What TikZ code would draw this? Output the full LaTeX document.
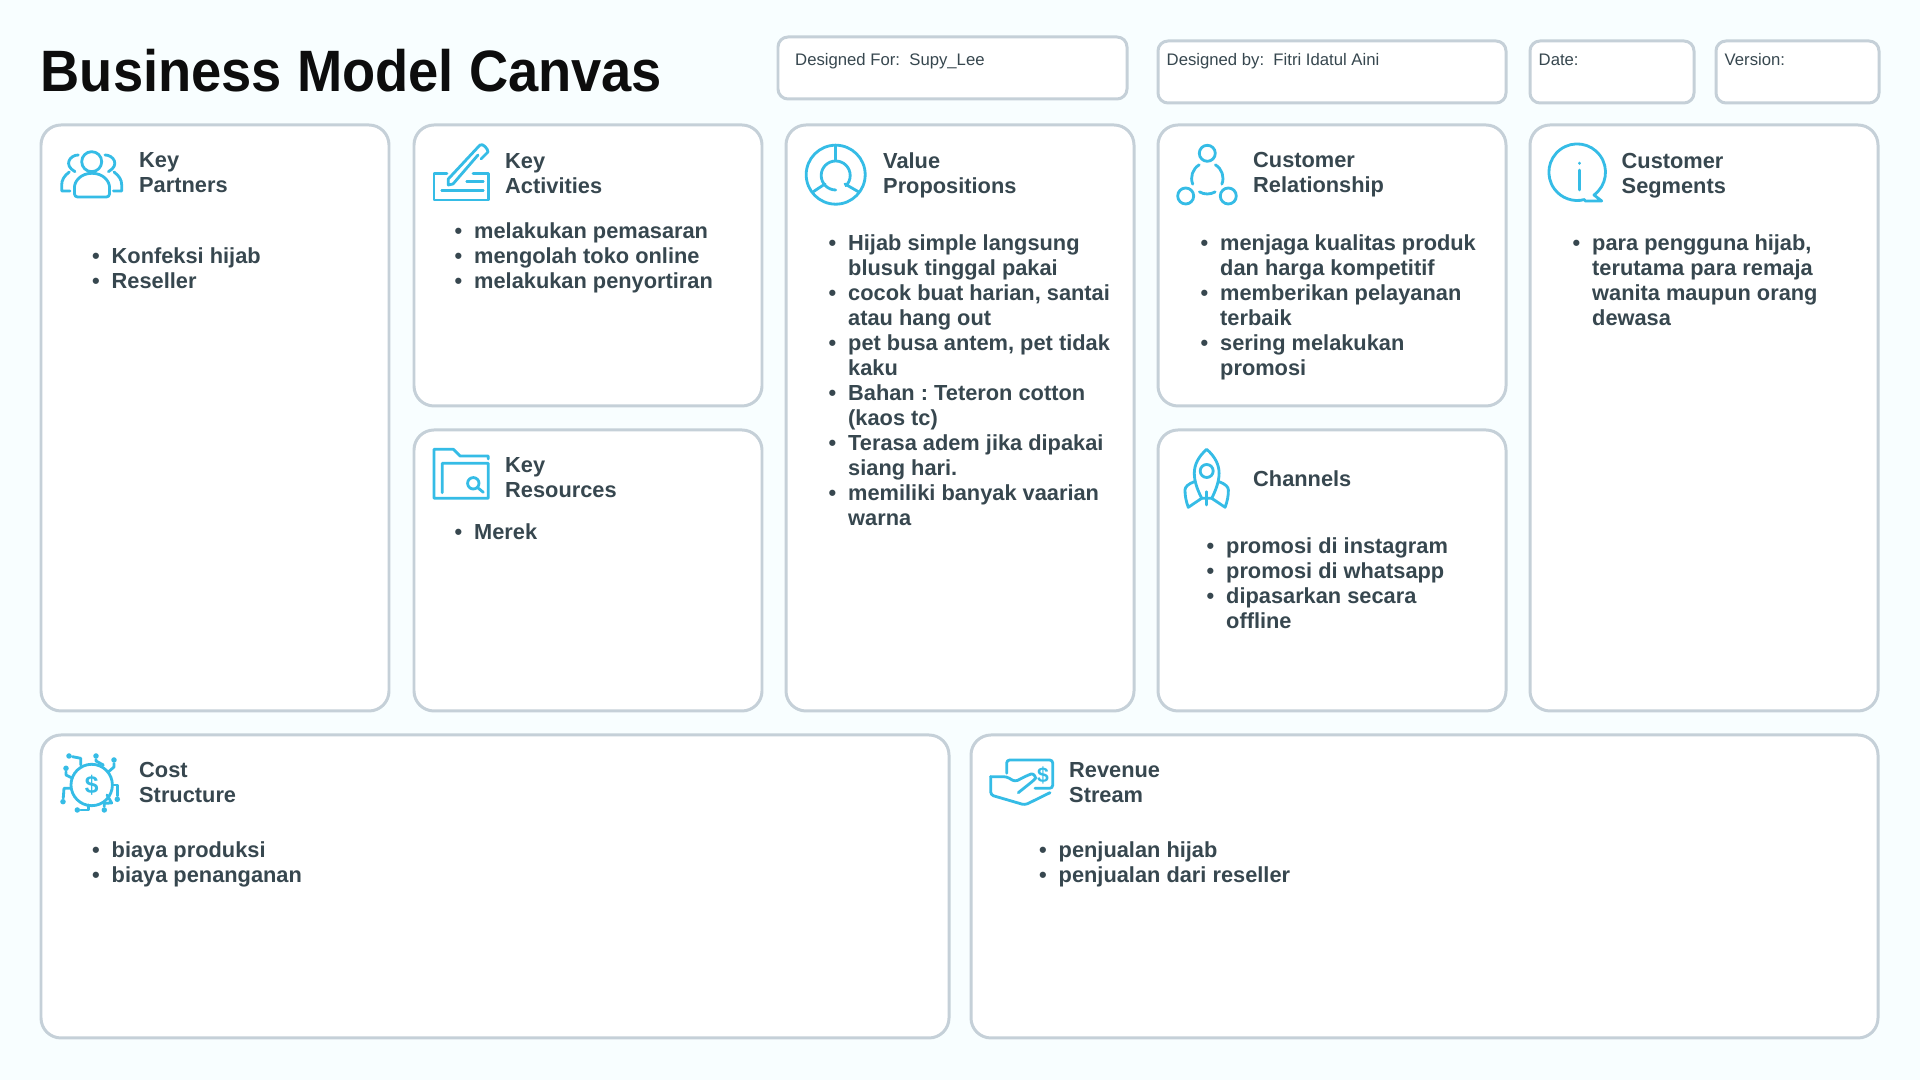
\documentclass[tikz,border=0pt]{standalone}
\usepackage{fontspec}
\setmainfont{Liberation Sans}
\newfontfamily\titlefont[FakeStretch=0.93]{Liberation Sans}
\frenchspacing
\usetikzlibrary{positioning,calc}
\definecolor{PageTint}{RGB}{248,254,255}
\definecolor{CardEdge}{RGB}{197,208,216}
\definecolor{InkSlate}{RGB}{55,71,79}
\definecolor{IconBlue}{RGB}{53,188,230}
\newcommand{\bul}{\llap{\textbullet\hspace{0.12cm}}}
\tikzset{card/.style={draw=CardEdge,fill=white,line width=0.85pt,rounded corners=0.2cm},
metabox/.style={draw=CardEdge,fill=white,line width=0.85pt,rounded corners=0.1cm},
icon/.style={draw=IconBlue,line width=0.8pt,line cap=round,line join=round},
tipdot/.style={circle,fill=IconBlue,inner sep=0pt,minimum size=0.055cm},
head/.style={anchor=north west,inner sep=0pt,align=left,text=InkSlate,font=\fontsize{6.2}{7.11}\selectfont\bfseries,execute at begin node=\strut},
items/.style={head},
meta/.style={anchor=north west,inner sep=0pt,text=InkSlate,font=\fontsize{4.75}{6}\selectfont,execute at begin node=\strut}}

\begin{document}
\begin{tikzpicture}[x=0.01cm,y=-0.01cm]
\fill[PageTint] (0,0) rectangle (1920,1080);
\node[anchor=base west,inner sep=0pt,text=black!95,font=\fontsize{16.6}{20}\titlefont\bfseries] (title) at (40,92) {Business Model Canvas};
% top boxes
\draw[metabox] (778,37) rectangle (1127,99);
\draw[metabox] (1158,41) rectangle (1506,103);
\draw[metabox] (1530,41) rectangle (1694,103);
\draw[metabox] (1716,41) rectangle (1879,103);
\node[meta] (forlab) at (794.5,50) {Designed For:\ \ Supy\_Lee};
\node[meta] (bylab) at (1166,50) {Designed by:\ \ Fitri Idatul Aini};
\node[meta] (datelab) at (1538,50) {Date:};
\node[meta] (verlab) at (1724,50) {Version:};
% cards
\draw[card] (41,125) rectangle (389,711);
\draw[card] (414,125) rectangle (762,406);
\draw[card] (414,430) rectangle (762,711);
\draw[card] (786,125) rectangle (1134,711);
\draw[card] (1158,125) rectangle (1506,406);
\draw[card] (1158,430) rectangle (1506,711);
\draw[card] (1530,125) rectangle (1878,711);
\draw[card] (41,735) rectangle (949,1038);
\draw[card] (971,735) rectangle (1878,1038);
% headings
\node[head] (kphead) at (138.5,151.7) {Key\\Partners};
\node[head] (kahead) at (504.5,152.7) {Key\\Activities};
\node[head] (krhead) at (504.5,456.7) {Key\\Resources};
\node[head] (vphead) at (882.5,151.7) {Value\\Propositions};
\node[head] (crhead) at (1252.5,151.7) {Customer\\Relationship};
\node[head] (chhead) at (1252.5,468.7) {Channels};
\node[head] (cshead) at (1621,152.7) {Customer\\Segments};
\node[head] (cohead) at (138.5,761.7) {Cost\\Structure};
\node[head] (rvhead) at (1068.5,761.7) {Revenue\\Stream};
% lists
\node[items] (kplist) at (111,246.7) {\bul Konfeksi hijab\\\bul Reseller};
\node[items] (kalist) at (473.5,221.7) {\bul melakukan pemasaran\\\bul mengolah toko online\\\bul melakukan penyortiran};
\node[items] (krlist) at (473.5,521.7) {\bul Merek};
\node[items] (vplist) at (847.5,233.7) {\bul Hijab simple langsung\\blusuk tinggal pakai\\\bul cocok buat harian, santai\\atau hang out\\\bul pet busa antem, pet tidak\\kaku\\\bul Bahan : Teteron cotton\\(kaos tc)\\\bul Terasa adem jika dipakai\\siang hari.\\\bul memiliki banyak vaarian\\warna};
\node[items] (crlist) at (1219.5,233.7) {\bul menjaga kualitas produk\\dan harga kompetitif\\\bul memberikan pelayanan\\terbaik\\\bul sering melakukan\\promosi};
\node[items] (chlist) at (1225.5,536.7) {\bul promosi di instagram\\\bul promosi di whatsapp\\\bul dipasarkan secara\\offline};
\node[items] (cslist) at (1591.5,233.7) {\bul para pengguna hijab,\\terutama para remaja\\wanita maupun orang\\dewasa};
\node[items] (colist) at (111,840.7) {\bul biaya produksi\\\bul biaya penanganan};
\node[items] (rvlist) at (1058,840.7) {\bul penjualan hijab\\\bul penjualan dari reseller};
% icon key partners
\draw[icon] (91.7,161.7) circle (10);
\draw[icon,rounded corners=0.03cm] (92,173.3) .. controls (80,173.3) and (74.5,182) .. (74.5,190) -- (74.5,197) -- (109.5,197) -- (109.5,190) .. controls (109.5,182) and (104,173.3) .. (92,173.3);
\draw[icon] (78.3,155) .. controls (70,155) and (63,165) .. (75,171.7);
\draw[icon] (69.3,172) .. controls (64,176) and (61.7,180) .. (61.7,185) -- (61.7,191) -- (70,191);
\draw[icon] (105,155) .. controls (113.4,155) and (120.4,165) .. (108.4,171.7);
\draw[icon] (114,172) .. controls (119.4,176) and (121.7,180) .. (121.7,185) -- (121.7,191) -- (113.4,191);
% icon key activities
\draw[icon] (447,173.3) -- (434,173.3) -- (434,200) -- (488.3,200) -- (488.3,173.3) -- (473,173.3);
\draw[icon] (478,155) -- (453,184) -- (448.3,185) -- (448.3,179) -- (480,145) .. controls (483,143) and (488,149) .. (488,152) -- (481,159);
\draw[icon] (466.7,181.7) -- (483.3,181.7);
\draw[icon] (441.7,190.7) -- (483.3,190.7);
% icon key resources
\draw[icon] (442.3,492.7) -- (442.3,463.3) -- (488.3,463.3) -- (488.3,498.3) -- (434,498.3) -- (434,449.3) -- (453.3,449.3) -- (460,456) -- (488.3,456) -- (488.3,459);
\draw[icon] (473.3,483.3) circle (5.7);
\draw[icon] (477.5,487.5) -- (483.3,492.3);
% icon value propositions
\draw[icon] (835.7,174.7) circle (29.5);
\draw[icon] (835.7,190) arc (90:405:14.5);
\draw[icon] (835.7,145) -- (835.7,160);
\draw[icon] (813.3,191.7) -- (825,184);
\draw[icon] (845,184) -- (858.3,191.7);
% icon customer relationship
\draw[icon] (1207.3,153.3) circle (8);
\draw[icon] (1185.7,196) circle (8);
\draw[icon] (1228.3,196) circle (8);
\draw[icon] (1207.3,178.3) ++(239:15.7) arc (239:158:15.7);
\draw[icon] (1207.3,178.3) ++(301:15.7) arc (301:382:15.7);
\draw[icon] (1207.3,178.3) ++(60:15.7) arc (60:120:15.7);
% icon customer segments
\draw[icon] (1585,201) -- (1601.7,201) -- (1594,195) arc (53.6:-285:28.3);
\draw[icon] (1579.3,170) -- (1579.3,190);
\draw[icon] (1579.3,163) -- (1579.3,163.5);
% icon channels
\draw[icon] (1206.7,449.3) .. controls (1198,457) and (1194.3,465) .. (1194.3,473.3) .. controls (1194.3,482) and (1198,491) .. (1201.7,498.3) -- (1211.7,498.3) .. controls (1215.4,491) and (1219.1,482) .. (1219.1,473.3) .. controls (1219.1,465) and (1215.4,457) .. (1206.7,449.3);
\draw[icon] (1206.7,471) circle (6.5);
\draw[icon] (1206.7,491.7) -- (1206.7,505);
\draw[icon] (1194.3,481.7) .. controls (1188,484) and (1185,487) .. (1185,490) .. controls (1185,496) and (1186,501) .. (1188.3,507.3) -- (1201.7,498.3);
\draw[icon] (1219.1,481.7) .. controls (1225.4,484) and (1228.4,487) .. (1228.4,490) .. controls (1228.4,496) and (1227.4,501) .. (1225.1,507.3) -- (1211.7,498.3);
% icon cost structure
\draw[icon] (91.7,785) circle (20.7);
\node[text=IconBlue,inner sep=0pt,font=\fontsize{7}{7}\selectfont\bfseries] (costsign) at (91.7,785) {\$};
\node[tipdot] (ta) at (69,756) {};
\node[tipdot] (tb) at (96,756) {};
\node[tipdot] (tc) at (114,760) {};
\node[tipdot] (td) at (66,768.3) {};
\node[tipdot] (te) at (117.3,799.3) {};
\node[tipdot] (tf) at (104.3,810) {};
\node[tipdot] (tg) at (77.3,810) {};
\node[tipdot] (th) at (63,801.7) {};
\draw[icon] (ta) -- (80.7,758.3) -- (80.7,765);
\draw[icon] (tb) -- (96,761) -- (103.3,765);
\draw[icon] (tc) -- (114,767) -- (108.3,772);
\draw[icon] (td) -- (66,775) -- (72,778);
\draw[icon] (te) -- (117.3,785) -- (112.7,785);
\draw[icon] (tf) -- (104.3,803.3) -- (111.7,803) -- (107,795);
\draw[icon] (tg) -- (88.3,810) -- (88.3,805);
\draw[icon] (th) -- (64,788.3) -- (70.7,788.3);
% icon revenue stream
\draw[icon,rounded corners=0.03cm] (1006.7,773.3) -- (1006.7,760) -- (1052.7,760) -- (1052.7,788.3) -- (1035,788.3);
\draw[icon,rounded corners=0.03cm] (990.7,776.7) -- (1006.7,776.7) -- (1015,781.7) -- (1028.3,775) .. controls (1034,773) and (1036,778) .. (1033.3,780.7) -- (1018.3,792.7);
\draw[icon,rounded corners=0.03cm] (990.7,776.7) -- (990.7,795) -- (1025,805) -- (1050,792.7);
\node[text=IconBlue,inner sep=0pt,font=\fontsize{6}{6}\selectfont\bfseries] (revsign) at (1043,775) {\$};
\end{tikzpicture}
\end{document}
